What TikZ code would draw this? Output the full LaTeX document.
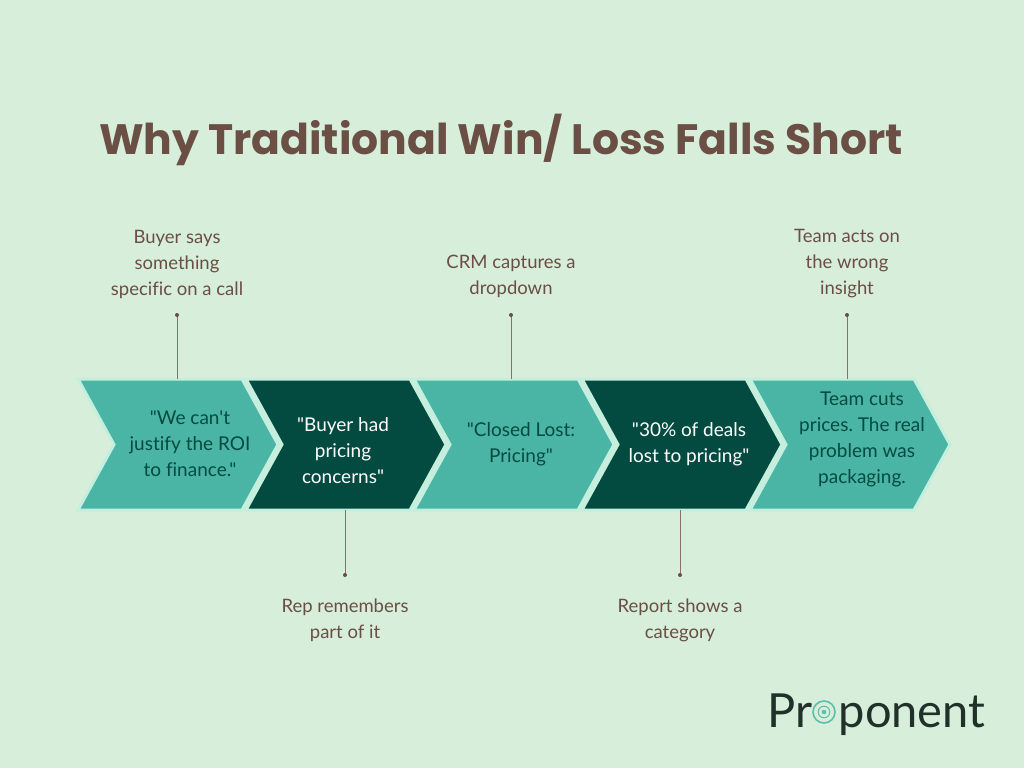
\documentclass[tikz,border=0pt]{standalone}
\usepackage{fontspec}
\setmainfont[Ligatures=NoCommon,Mapping=]{Lato}
\newfontfamily\titlefont{Poppins}
\definecolor{bg}{HTML}{D7EEDB}
\definecolor{teal}{HTML}{4BB5A5}
\definecolor{dark}{HTML}{034B40}
\definecolor{gapc}{HTML}{C4EEDD}
\definecolor{brown}{HTML}{6B4E44}
\definecolor{logo}{HTML}{22302A}
\definecolor{icon}{HTML}{5CBFAA}
\newcommand\dq{\symbol{34}}
\newcommand\sq{\symbol{39}}
\frenchspacing
\begin{document}
\begin{tikzpicture}[x=1pt,y=-1pt,
  lbl/.style={text=brown,font=\fontsize{18.5}{26}\selectfont,align=center},
  inl/.style={font=\fontsize{19}{26}\selectfont,align=center},
  con/.style={draw=brown!80,line width=0.8pt},
  dotc/.style={fill=brown,draw=none}]
\fill[bg] (0,0) rectangle (1024,768);
\useasboundingbox (0,0) rectangle (1024,768);
\node[text=brown,font=\titlefont\bfseries\fontsize{42.5}{48}\selectfont] (title) at (501,140) {Why Traditional Win/ Loss Falls Short};
% chevrons
\foreach \i/\c in {0/teal,1/dark,2/teal,3/dark,4/teal}{
  \pgfmathsetmacro\xa{78+168*\i}
  \fill[\c,draw=gapc,line width=3pt,line join=miter] (\xa,379) -- (\xa+164,379) -- (\xa+200,444.5) -- (\xa+164,510) -- (\xa,510) -- (\xa+36,444.5) -- cycle;
}
\node[inl,text=dark] (c1) at (190,444) {\dq We can\sq t\\justify the ROI\\to finance.\dq};
\node[inl,text=white] (c2) at (343,451) {\dq Buyer had\\pricing\\concerns\dq};
\node[inl,text=dark] (c3) at (521,444) {\dq Closed Lost:\\Pricing\dq};
\node[inl,text=white] (c4) at (689,444) {\dq 30\% of deals\\lost to pricing\dq};
\node[inl,text=dark] (c5) at (862,439) {Team cuts\\prices. The real\\problem was\\packaging.};
% labels
\node[lbl] (l1) at (177,264) {Buyer says\\something\\specific on a call};
\node[lbl] (l3) at (511,276) {CRM captures a\\dropdown};
\node[lbl] (l5) at (847,264) {Team acts on\\the wrong\\insight};
\node[lbl] (l2) at (345,620) {Rep remembers\\part of it};
\node[lbl] (l4) at (680,620) {Report shows a\\category};
% connectors
\coordinate (t1) at (177,315); \coordinate (b1) at (177,379);
\coordinate (t3) at (511,315); \coordinate (b3) at (511,379);
\coordinate (t5) at (847,315); \coordinate (b5) at (847,379);
\coordinate (t2) at (345,510); \coordinate (b2) at (345,575);
\coordinate (t4) at (680,510); \coordinate (b4) at (680,575);
\foreach \p in {1,3,5}{\draw[con] (t\p) -- (b\p); \fill[dotc] (t\p) circle (2);}
\foreach \p in {2,4}{\draw[con] (t\p) -- (b\p); \fill[dotc] (b\p) circle (2);}
% logo
\node[anchor=base west,inner sep=0,text=logo,font=\fontsize{47}{50}\selectfont] (logo) at (767,727) {Pr\phantom{o}ponent};
\coordinate (ic) at (824,712);
\draw[icon,line width=1.6pt] (ic) circle (11);
\draw[icon,line width=1pt] (ic) circle (5.8);
\fill[icon] (ic) circle (2.3);
\end{tikzpicture}
\end{document}
